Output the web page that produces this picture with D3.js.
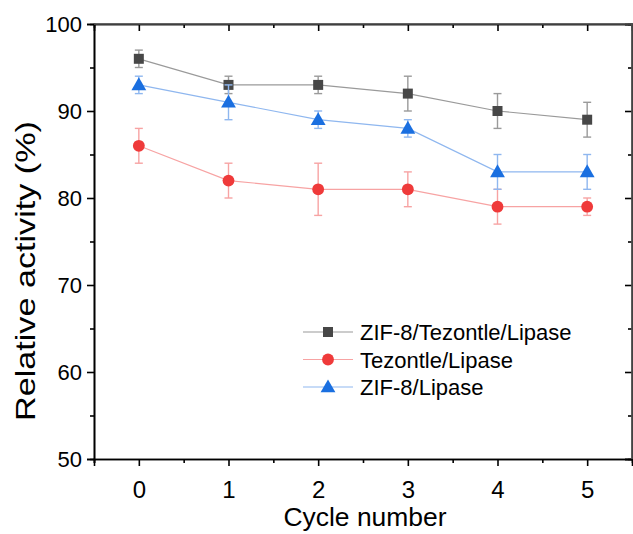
<!DOCTYPE html>
<html>
<head>
<meta charset="utf-8">
<script src="https://cdn.jsdelivr.net/npm/d3@7"></script>
<style>
  body { margin: 0; background: #fff; }
  text { font-family: "Liberation Sans", Arial, sans-serif; fill: #000; }
</style>
</head>
<body>
<div id="main"></div>
<script>
// data
const cycles = [0, 1, 2, 3, 4, 5];
const zifTezValues = [96, 93, 93, 92, 90, 89];
const zifTezErrors = [1, 1, 1, 2, 2, 2];
const tezValues = [86, 82, 81, 81, 79, 79];
const tezErrors = [2, 2, 3, 2, 2, 1];
const zifValues = [93, 91, 89, 88, 83, 83];
const zifErrors = [1, 2, 1, 1, 2, 2];
const yTicks = [50, 60, 70, 80, 90, 100];
const yMinor = [55, 65, 75, 85, 95];
const xMinor = [-0.5, 0.5, 1.5, 2.5, 3.5, 4.5];

const series = [
  { name: "ZIF-8/Tezontle/Lipase", values: zifTezValues, errors: zifTezErrors, shape: "square", marker: "#474747", line: "#9a9a9a" },
  { name: "Tezontle/Lipase", values: tezValues, errors: tezErrors, shape: "circle", marker: "#ef3a3a", line: "#f7a3a3" },
  { name: "ZIF-8/Lipase", values: zifValues, errors: zifErrors, shape: "triangle", marker: "#1a6fe0", line: "#8fb7ef" }
];

const W = 633, H = 534;
const m = { left: 94, right: 1, top: 24, bottom: 75 };
const w = W - m.left - m.right, h = H - m.top - m.bottom;

const svg = d3.select("#main").append("svg").attr("width", W).attr("height", H);
const g = svg.append("g").attr("transform", `translate(${m.left},${m.top})`);

const x = d3.scaleLinear().domain([-0.5, 5.5]).range([0, w]);
const y = d3.scaleLinear().domain([50, 100]).range([h, 0]);

const symbols = {
  square: d3.symbol().type(d3.symbolSquare).size(100),
  circle: d3.symbol().type(d3.symbolCircle).size(110),
  triangle: d3.symbol().type(d3.symbolTriangle).size(95)
};

// axes
g.append("g").attr("class", "xax").attr("transform", `translate(0,${h})`)
  .call(d3.axisBottom(x).tickValues(cycles).tickSize(7).tickPadding(15).tickFormat(d3.format("d")));
g.append("g").attr("transform", `translate(0,${h})`)
  .call(d3.axisBottom(x).tickValues(xMinor).tickSize(4).tickFormat(""));
g.append("g").attr("class", "yax").call(d3.axisLeft(y).tickValues(yTicks).tickSize(7).tickPadding(5));
g.append("g").call(d3.axisLeft(y).tickValues(yMinor).tickSize(4).tickFormat(""));
g.append("g").call(d3.axisTop(x).tickValues(cycles).tickSize(-7).tickFormat(""));
g.append("g").call(d3.axisTop(x).tickValues(xMinor.slice(1)).tickSize(-4).tickFormat(""));
g.append("g").attr("transform", `translate(${w},0)`).call(d3.axisRight(y).tickValues(yTicks).tickSize(-7).tickFormat(""));
g.append("g").attr("transform", `translate(${w},0)`).call(d3.axisRight(y).tickValues(yMinor).tickSize(-4).tickFormat(""));

g.selectAll(".domain").attr("stroke", "#000").attr("stroke-width", 1.6);
g.selectAll(".tick line").attr("stroke", "#000").attr("stroke-width", 1.6);
g.selectAll(".xax .tick text").style("font-size", "24px").style("font-family", "'Liberation Sans', Arial, sans-serif");
g.selectAll(".yax .tick text").style("font-size", "22px").style("font-family", "'Liberation Sans', Arial, sans-serif");

// frame: top and right lines are grey
g.append("line").attr("x1", 0).attr("x2", w).attr("y1", 0).attr("y2", 0).attr("stroke", "#555").attr("stroke-width", 1.6);
g.append("line").attr("x1", w).attr("x2", w).attr("y1", 0).attr("y2", h).attr("stroke", "#555").attr("stroke-width", 1.6);

// series
series.forEach(s => {
  const pts = cycles.map((c, i) => ({ c, v: s.values[i], e: s.errors[i] }));
  const sg = g.append("g");
  sg.append("path").datum(pts)
    .attr("fill", "none").attr("stroke", s.line).attr("stroke-width", 1.2)
    .attr("d", d3.line().x(d => x(d.c)).y(d => y(d.v)));
  const eb = sg.selectAll("g.err").data(pts).join("g").attr("class", "err")
    .attr("stroke", s.line).attr("stroke-width", 1.4);
  eb.append("line").attr("x1", d => x(d.c)).attr("x2", d => x(d.c))
    .attr("y1", d => y(d.v + d.e)).attr("y2", d => y(d.v - d.e));
  eb.append("line").attr("x1", d => x(d.c) - 4).attr("x2", d => x(d.c) + 4)
    .attr("y1", d => y(d.v + d.e)).attr("y2", d => y(d.v + d.e));
  eb.append("line").attr("x1", d => x(d.c) - 4).attr("x2", d => x(d.c) + 4)
    .attr("y1", d => y(d.v - d.e)).attr("y2", d => y(d.v - d.e));
  sg.selectAll("path.mark").data(pts).join("path").attr("class", "mark")
    .attr("transform", d => `translate(${x(d.c)},${y(d.v) + (s.shape === "triangle" ? 1 : 0)})`)
    .attr("d", symbols[s.shape]).attr("fill", s.marker);
});

// legend
const leg = svg.append("g").attr("transform", "translate(303,332)");
series.forEach((s, i) => {
  const row = leg.append("g").attr("transform", `translate(0,${i * 27.5})`);
  row.append("line").attr("x1", 0).attr("x2", 50).attr("stroke", s.line).attr("stroke-width", 1.2);
  row.append("path").attr("transform", `translate(25,${s.shape === "triangle" ? 1 : 0})`)
    .attr("d", symbols[s.shape]).attr("fill", s.marker);
  row.append("text").attr("x", 57).attr("y", 8).style("font-size", "22px").text(s.name);
});

// axis titles
svg.append("text").attr("x", 365).attr("y", 526)
  .attr("text-anchor", "middle").style("font-size", "26px")
  .attr("textLength", 163).attr("lengthAdjust", "spacingAndGlyphs").text("Cycle number");
svg.append("text").attr("transform", `translate(35,271) rotate(-90)`)
  .attr("text-anchor", "middle").style("font-size", "28px")
  .attr("textLength", 300).attr("lengthAdjust", "spacingAndGlyphs").text("Relative activity (%)");
</script>
</body>
</html>
